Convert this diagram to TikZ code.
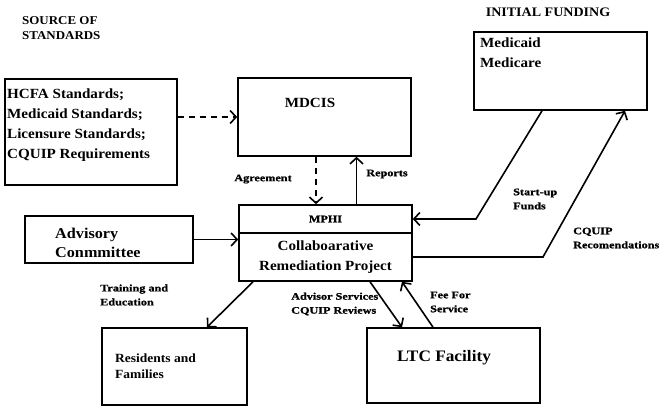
\documentclass[tikz,border=0pt]{standalone}
\usepackage{fontspec}
\setmainfont{Liberation Serif}
\newfontfamily\boxfont[FakeStretch=1.08]{Liberation Serif}
\newfontfamily\lblfont[FakeStretch=1.22,FakeBold=1]{Liberation Serif}
\usetikzlibrary{arrows.meta}
\tikzset{
	box/.style={draw, line width=1.6pt, inner sep=0pt},
	boxtxt/.style={font=\boxfont\bfseries\fontsize{14}{20}\selectfont, align=left, inner sep=0pt},
	lbl/.style={font=\lblfont\bfseries\fontsize{10}{14}\selectfont, align=left, inner sep=0pt},
	head/.style={font=\boxfont\bfseries\fontsize{12}{15}\selectfont, align=left, inner sep=0pt},
	link/.style={line width=1.6pt, ->},
	dlink/.style={link, dash pattern=on 6pt off 5pt},
	>={Straight Barb[length=6pt,width=13pt]}
}
\begin{document}
\begin{tikzpicture}[x=1pt,y=-1pt]
	\useasboundingbox (0,0) rectangle (669,406);
	% headings
	\node[head, anchor=north west] (srchead) at (22,16) {SOURCE OF\\STANDARDS};
	\node[head, font=\boxfont\bfseries\fontsize{13}{15}\selectfont] (fundhead) at (548,12) {INITIAL FUNDING};
	% boxes
	\node[box, minimum width=172pt, minimum height=106pt] (hcfa) at (91,132) {};
	\node[boxtxt, anchor=north west] (hcfatxt) at (7,89) {HCFA Standards;\\Medicaid Standards;\\Licensure Standards;\\CQUIP Requirements};
	\node[box, minimum width=173pt, minimum height=78pt] (mdcis) at (324.5,117) {};
	\node[boxtxt] (mdcistxt) at (310,103) {MDCIS};
	\node[box, minimum width=173pt, minimum height=78pt] (fund) at (560.5,71) {};
	\node[boxtxt, anchor=north west] (fundtxt) at (480,38) {Medicaid\\Medicare};
	\node[box, minimum width=173pt, minimum height=28pt, font=\lblfont\bfseries\fontsize{10}{12}\selectfont] (mphiTop) at (325.5,219) {MPHI};
	\node[box, minimum width=173pt, minimum height=48pt, boxtxt, align=center] (mphi) at (325.5,257) {Collaboarative\\Remediation Project};
	\node[box, minimum width=168pt, minimum height=47pt] (adv) at (109,239.5) {};
	\node[boxtxt, anchor=west, font=\boxfont\bfseries\fontsize{15}{19}\selectfont] (advtxt) at (55,243) {Advisory\\Conmmittee};
	\node[box, minimum width=145pt, minimum height=77pt] (res) at (174.5,366.5) {};
	\node[boxtxt, anchor=west, font=\boxfont\bfseries\fontsize{12.5}{16}\selectfont] (restxt) at (115,366) {Residents and\\Families};
	\node[box, minimum width=173pt, minimum height=75pt] (ltc) at (453.5,365.5) {};
	\node[boxtxt, font=\boxfont\bfseries\fontsize{16}{20}\selectfont] (ltctxt) at (444,358) {LTC Facility};
	% bends
	\coordinate (suBend) at (476,219);
	\coordinate (cqBend) at (543,257);
	% connectors
	\draw[dlink] ([yshift=15pt]hcfa.east) -- ([yshift=15pt]hcfa.east -| mdcis.west);
	\draw[dlink] ([xshift=-8.5pt]mdcis.south) -- ([xshift=-9.5pt]mphiTop.north);
	\draw[link] ([xshift=31pt]mphiTop.north) -- ([xshift=31pt]mphiTop.north |- mdcis.south);
	\draw[link] (adv.east) -- (adv.east -| mphi.west);
	\draw[link] ([xshift=-18.5pt]fund.south) -- (suBend) -- (mphiTop.east);
	\draw[link] (mphi.east) -- (cqBend) -- ([xshift=64.5pt]fund.south);
	\draw[link] ([xshift=-72.5pt]mphi.south) -- ([xshift=32.5pt]res.north);
	\draw[link] ([xshift=44.5pt]mphi.south) -- ([xshift=-51.5pt]ltc.north);
	\draw[link] ([xshift=-20.5pt]ltc.north) -- ([xshift=76.5pt]mphi.south);
	% labels
	\node[lbl] (agrlbl) at (263,179) {Agreement};
	\node[lbl] (replbl) at (387,174) {Reports};
	\node[lbl, anchor=west] (sulbl) at (513,199) {Start-up\\Funds};
	\node[lbl, anchor=west] (cqlbl) at (573,238) {CQUIP\\Recomendations};
	\node[lbl, anchor=west] (trlbl) at (100,295) {Training and\\Education};
	\node[lbl, anchor=west] (advlbl) at (291,304) {Advisor Services\\CQUIP Reviews};
	\node[lbl, anchor=west] (feelbl) at (430,302) {Fee For\\Service};
\end{tikzpicture}
\end{document}
